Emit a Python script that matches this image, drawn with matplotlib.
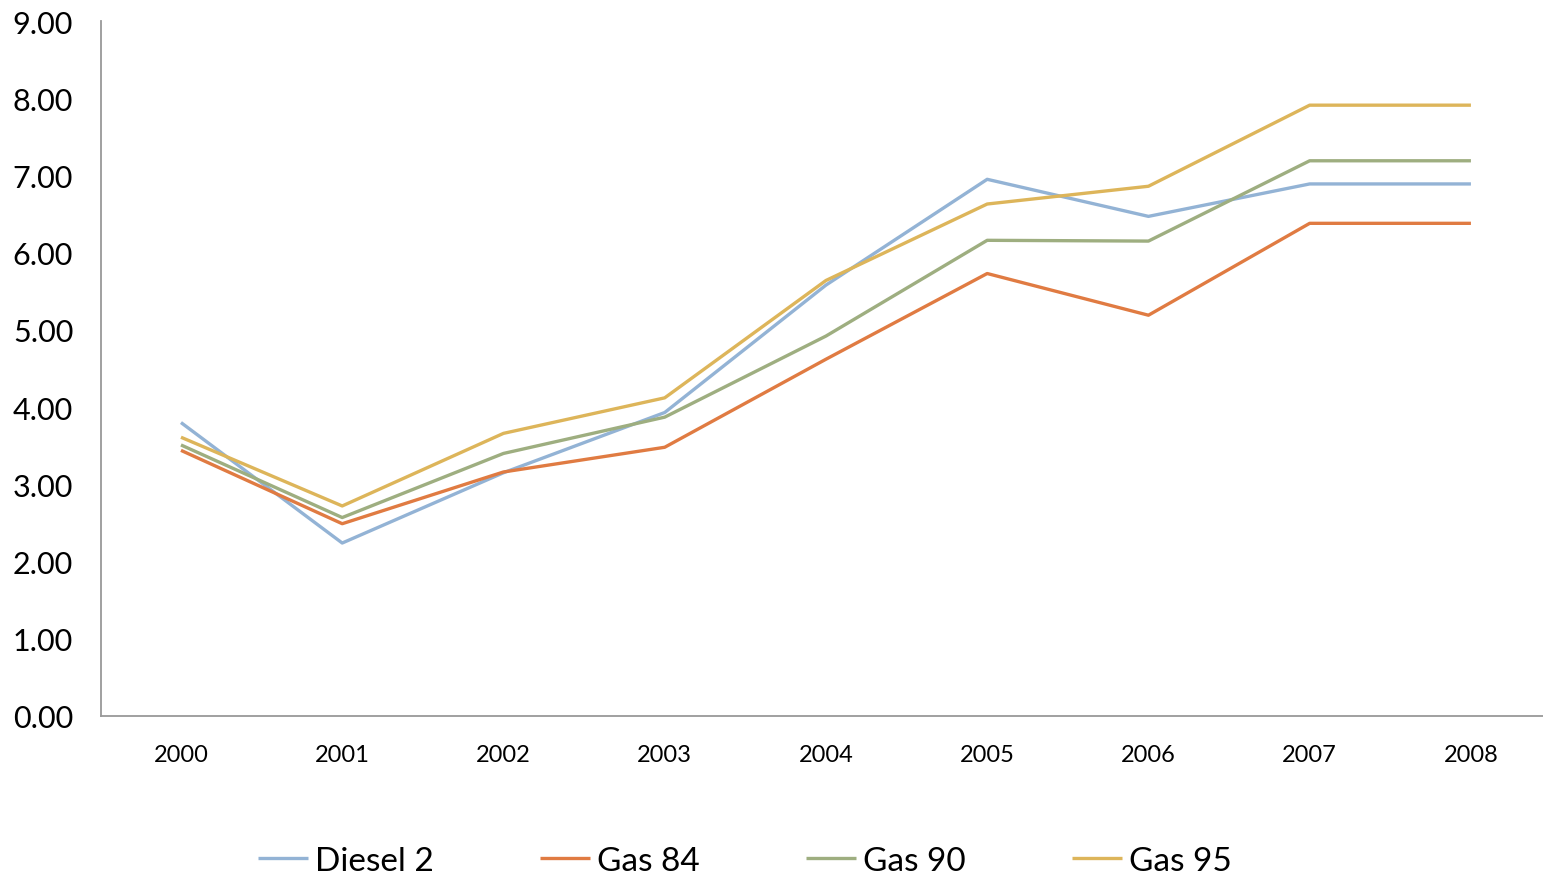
import matplotlib
matplotlib.use("Agg")
import matplotlib.pyplot as plt

years = ["2000", "2001", "2002", "2003", "2004", "2005", "2006", "2007", "2008"]
diesel2 = [3.80, 2.24, 3.15, 3.93, 5.58, 6.95, 6.47, 6.89, 6.89]
gas84 = [3.44, 2.49, 3.16, 3.48, 4.62, 5.73, 5.19, 6.38, 6.38]
gas90 = [3.51, 2.57, 3.40, 3.87, 4.92, 6.16, 6.15, 7.19, 7.19]
gas95 = [3.61, 2.72, 3.66, 4.12, 5.64, 6.63, 6.86, 7.91, 7.91]
series_names = ["Diesel 2", "Gas 84", "Gas 90", "Gas 95"]
y_ticks = [0, 1, 2, 3, 4, 5, 6, 7, 8, 9]

colors = ["#93B3D5", "#E07B42", "#9EAE80", "#DDB55A"]

plt.rcParams['font.family'] = ['Lato', 'DejaVu Sans']

fig = plt.figure(figsize=(15.43, 8.78), dpi=100)
ax = fig.add_axes([101/1543, 161/878, 1442/1543, 695/878])

x = list(range(len(years)))
for vals, name, c in zip([diesel2, gas84, gas90, gas95], series_names, colors):
    ax.plot(x, vals, color=c, lw=2.4, label=name, solid_capstyle='butt')

ax.set_xlim(-0.496, len(years) - 1 + 0.447)
ax.set_ylim(0, 9)
ax.set_yticks(y_ticks)
ax.set_yticklabels([f"{v:.2f}" for v in y_ticks], fontsize=22)
ax.set_xticks(x)
ax.set_xticklabels(years, fontsize=17)
ax.tick_params(axis='both', length=0)
ax.tick_params(axis='y', pad=20)
ax.tick_params(axis='x', pad=20)
for s in ["top", "right"]:
    ax.spines[s].set_visible(False)
for s in ["left", "bottom"]:
    ax.spines[s].set_color("#999999")
    ax.spines[s].set_linewidth(1.3)

fig.legend(loc="center", bbox_to_anchor=(745/1543, 16/878), ncol=4, frameon=False,
           fontsize=24, handlelength=1.5, handletextpad=0.2, columnspacing=3.2)

fig.savefig("out.png", dpi=100)
